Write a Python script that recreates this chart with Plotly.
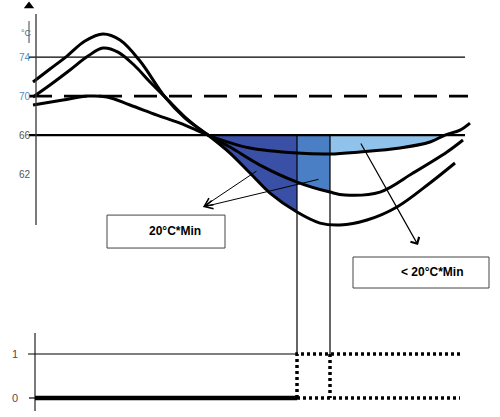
import plotly.graph_objects as go

# temperature curves (time in arbitrary units, temperature in degC)
t_a = [33, 50, 67, 85, 103, 120, 140, 165, 185, 208, 230, 250, 270, 297, 320, 340, 367, 397, 430, 455]
temp_a = [71.44, 72.77, 74.10, 75.64, 76.36, 75.74, 73.59, 69.90, 67.74, 66.0, 64.15, 62.10, 60.05,
          58.10, 56.97, 56.77, 57.28, 58.62, 61.08, 63.13]

t_b = [33, 50, 70, 88, 103, 118, 135, 150, 168, 185, 208, 230, 260, 297, 330, 345, 380, 413, 447, 463]
temp_b = [69.90, 71.13, 72.67, 74.10, 74.92, 74.51, 73.08, 71.44, 69.59, 67.85, 66.0, 64.77, 62.92,
          61.18, 60.15, 59.85, 60.15, 62.10, 64.26, 65.49]

t_c = [33, 63, 88, 107, 130, 157, 180, 208, 225, 250, 297, 330, 360, 400, 430, 445, 460, 470]
temp_c = [69.08, 69.59, 70.0, 69.90, 69.08, 68.05, 67.23, 66.0, 65.38, 64.67, 64.15, 64.05, 64.26,
          64.67, 65.28, 66.0, 66.51, 67.23]

ref_levels = [74, 70, 66]
setpoint = 66
t_events = [297, 330]
tick_vals = [62, 66, 70, 74]

# switching signal (0/1)
sig_on_t = [297, 297, 460, None, 297, 460, None, 330, 330]
sig_on_v = [0, 1, 1, None, 0, 0, None, 1, 0]
sig_off_t = [35, 297]
sig_off_v = [0, 0]

T_LO, T_HI = 37.08, 79.85
S_LO, S_HI = -0.432, 9.045


def sig_to_temp(v):
    return T_LO + (v - S_LO) / (S_HI - S_LO) * (T_HI - T_LO)


def segment(ts, vs, lo, hi):
    xs = [t for t in ts if lo <= t <= hi]
    ys = [v for t, v in zip(ts, vs) if lo <= t <= hi]
    return xs + [xs[-1], xs[0]], ys + [setpoint, setpoint]


fig = go.Figure()

# shaded areas under the setpoint
for (ts, vs, lo, hi, col) in [(t_a, temp_a, 208, 297, "#3a50a7"),
                              (t_b, temp_b, 297, 330, "#4a7ec5"),
                              (t_c, temp_c, 330, 445, "#90c3eb")]:
    xs, ys = segment(ts, vs, lo, hi)
    fig.add_trace(go.Scatter(x=xs, y=ys, fill="toself", fillcolor=col, mode="lines",
                             line=dict(width=0), hoverinfo="skip"))

# reference levels
fig.add_trace(go.Scatter(x=[29, 465], y=[ref_levels[0]] * 2, mode="lines", line=dict(color="black", width=1.3)))
fig.add_trace(go.Scatter(x=[29, 468], y=[ref_levels[1]] * 2, mode="lines",
                         line=dict(color="black", width=2.8, dash="23px,12px")))
fig.add_trace(go.Scatter(x=[29, 465], y=[ref_levels[2]] * 2, mode="lines", line=dict(color="black", width=2.3)))

# curves
for ts, vs in [(t_a, temp_a), (t_b, temp_b), (t_c, temp_c)]:
    fig.add_trace(go.Scatter(x=ts, y=vs, mode="lines", line=dict(color="black", width=3, shape="spline")))

# event lines
for te in t_events:
    fig.add_trace(go.Scatter(x=[te, te], y=[setpoint, sig_to_temp(1)], mode="lines",
                             line=dict(color="black", width=1.2)))

# upper axis
fig.add_trace(go.Scatter(x=[36, 36], y=[56.77, 78.41], mode="lines", line=dict(color="#333", width=1.3)))
fig.add_trace(go.Scatter(x=[29], y=[79.23], mode="markers",
                         marker=dict(symbol="triangle-up", size=9, color="black")))
fig.add_trace(go.Scatter(x=[29, 29], y=[75.44, 77.69], mode="lines", line=dict(color="#444", width=1)))

# lower panel
fig.add_trace(go.Scatter(x=[35, 35], y=[-0.2955, 1.477], yaxis="y2", mode="lines",
                         line=dict(color="#333", width=1.3)))
fig.add_trace(go.Scatter(x=[28, 297], y=[1, 1], yaxis="y2", mode="lines", line=dict(color="black", width=1.2)))
fig.add_trace(go.Scatter(x=[29, 35], y=[0, 0], yaxis="y2", mode="lines", line=dict(color="black", width=1.2)))
fig.add_trace(go.Scatter(x=sig_off_t, y=sig_off_v, yaxis="y2", mode="lines", line=dict(color="black", width=4.5)))
fig.add_trace(go.Scatter(x=sig_on_t, y=sig_on_v, yaxis="y2", mode="lines", connectgaps=False,
                         line=dict(color="black", width=3.5, dash="3px,3px")))

tick_col = {74: "#4f8fbf", 70: "#4f8fbf", 66: "#555", 62: "#555"}
tick_text = ["<span style='color:%s'>%d</span>" % (tick_col[v], v) for v in tick_vals]

fig.update_layout(
    width=500, height=417, margin=dict(l=0, r=0, t=0, b=0),
    paper_bgcolor="white", plot_bgcolor="white", showlegend=False,
    font=dict(family="Liberation Sans, Arial, sans-serif"),
    xaxis=dict(range=[0, 500], domain=[0, 1], visible=False),
    yaxis=dict(range=[T_LO, T_HI], domain=[0, 1], anchor="free", position=0.072,
               showgrid=False, zeroline=False, showline=False, ticks="",
               tickvals=tick_vals, ticktext=tick_text, ticklabelstandoff=6,
               tickfont=dict(size=10, color="#555")),
    yaxis2=dict(range=[S_LO, S_HI], domain=[0, 1], overlaying="y", anchor="free", position=0.07,
                showgrid=False, zeroline=False, showline=False, ticks="",
                tickvals=[0, 1], ticktext=["0", "1"], ticklabelstandoff=17,
                tickfont=dict(size=11, color="#5a4a4a")),
    shapes=[
        dict(type="rect", xref="x", yref="y", x0=107, x1=225, y0=54.41, y1=57.79,
             line=dict(color="#444", width=1), fillcolor="white"),
        dict(type="rect", xref="x", yref="y", x0=353, x1=489, y0=50.31, y1=53.49,
             line=dict(color="#444", width=1), fillcolor="white"),
    ],
    annotations=[
        dict(x=26, y=76.46, xref="x", yref="y", text="°C", showarrow=False,
             font=dict(size=9, color="#666")),
        dict(x=175, y=56.15, xref="x", yref="y", text="<b>20°C*Min</b>", showarrow=False,
             font=dict(size=12, color="black")),
        dict(x=432, y=51.95, xref="x", yref="y", text="<b>< 20°C*Min</b>", showarrow=False,
             font=dict(size=12, color="black")),
        dict(x=203, y=58.62, ax=258, ay=62.41, xref="x", yref="y", axref="x", ayref="y",
             text="", showarrow=True, arrowhead=5, arrowsize=1.6, arrowwidth=1, arrowcolor="black"),
        dict(x=203, y=58.62, ax=320, ay=61.49, xref="x", yref="y", axref="x", ayref="y",
             text="", showarrow=True, arrowhead=5, arrowsize=1.6, arrowwidth=1, arrowcolor="black"),
        dict(x=418, y=54.72, ax=360, ay=65.28, xref="x", yref="y", axref="x", ayref="y",
             text="", showarrow=True, arrowhead=4, arrowsize=1.6, arrowwidth=1.2, arrowcolor="black"),
    ],
)

fig.write_html("out.html", config={"displayModeBar": False},
               post_script="document.body.style.margin='0';")
